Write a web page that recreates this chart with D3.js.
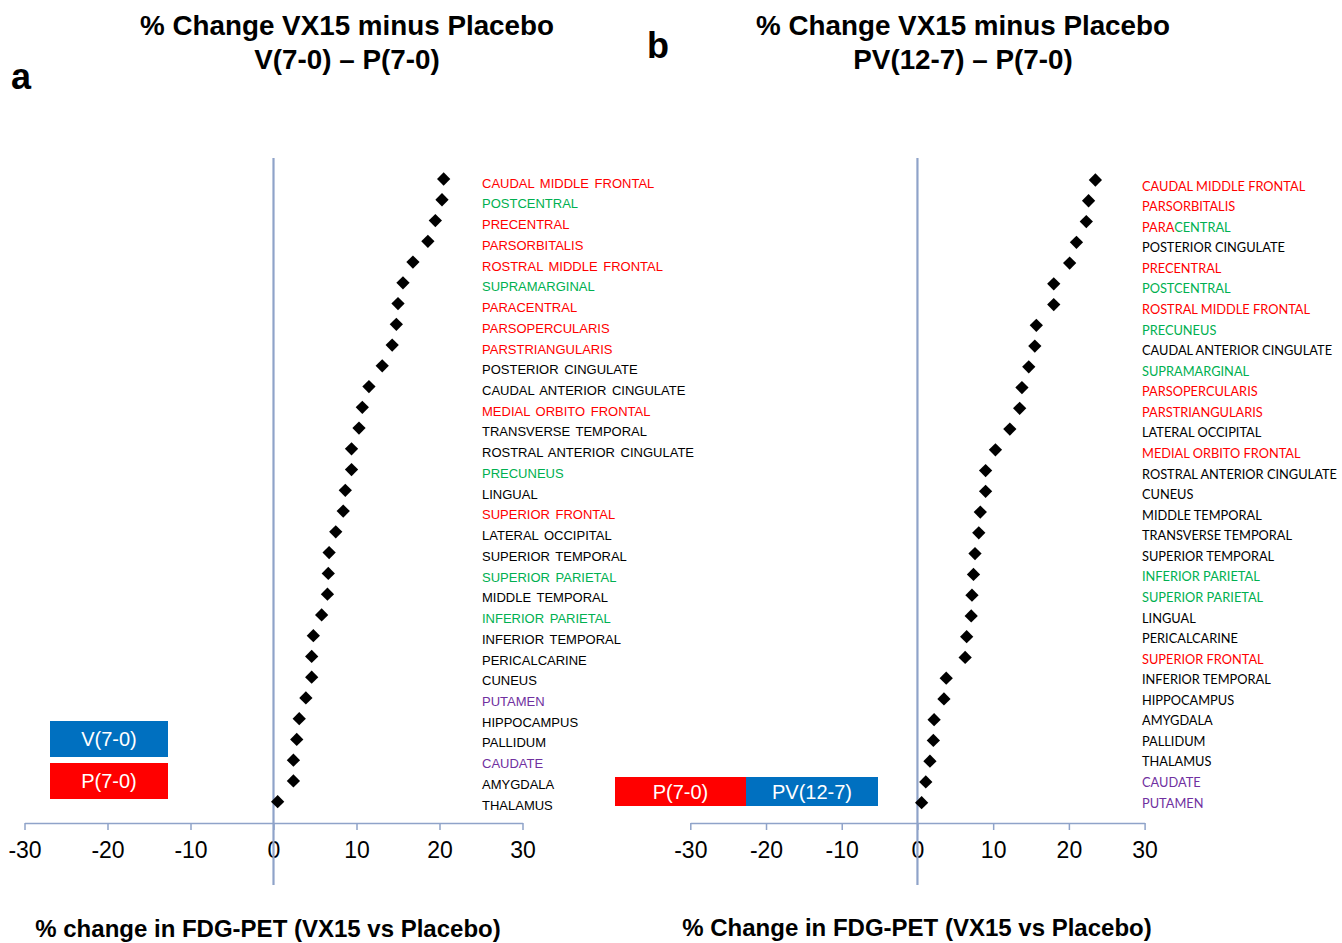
<!DOCTYPE html>
<html><head><meta charset="utf-8">
<script src="https://cdn.jsdelivr.net/npm/d3@7"></script>
<style>body{margin:0;background:#fff}svg{display:block}</style>
</head><body>
<script>
// ---------- DATA ----------
const regionsA = ["CAUDAL MIDDLE FRONTAL","POSTCENTRAL","PRECENTRAL","PARSORBITALIS","ROSTRAL MIDDLE FRONTAL","SUPRAMARGINAL","PARACENTRAL","PARSOPERCULARIS","PARSTRIANGULARIS","POSTERIOR CINGULATE","CAUDAL ANTERIOR CINGULATE","MEDIAL ORBITO FRONTAL","TRANSVERSE TEMPORAL","ROSTRAL ANTERIOR CINGULATE","PRECUNEUS","LINGUAL","SUPERIOR FRONTAL","LATERAL OCCIPITAL","SUPERIOR TEMPORAL","SUPERIOR PARIETAL","MIDDLE TEMPORAL","INFERIOR PARIETAL","INFERIOR TEMPORAL","PERICALCARINE","CUNEUS","PUTAMEN","HIPPOCAMPUS","PALLIDUM","CAUDATE","AMYGDALA","THALAMUS"];
const valuesA = [20.5,20.3,19.5,18.6,16.8,15.6,15.0,14.8,14.3,13.1,11.5,10.7,10.3,9.4,9.4,8.65,8.4,7.5,6.7,6.6,6.5,5.8,4.8,4.6,4.6,3.9,3.1,2.8,2.4,2.4,0.5];
const groupsA = ["F","P","F","F","F","P","F","F","F","O","O","F","O","O","P","O","F","O","O","P","O","P","O","O","O","B","O","O","B","O","O"];

const regionsB = ["CAUDAL MIDDLE FRONTAL","PARSORBITALIS","PARACENTRAL","POSTERIOR CINGULATE","PRECENTRAL","POSTCENTRAL","ROSTRAL MIDDLE FRONTAL","PRECUNEUS","CAUDAL ANTERIOR CINGULATE","SUPRAMARGINAL","PARSOPERCULARIS","PARSTRIANGULARIS","LATERAL OCCIPITAL","MEDIAL ORBITO FRONTAL","ROSTRAL ANTERIOR CINGULATE","CUNEUS","MIDDLE TEMPORAL","TRANSVERSE TEMPORAL","SUPERIOR TEMPORAL","INFERIOR PARIETAL","SUPERIOR PARIETAL","LINGUAL","PERICALCARINE","SUPERIOR FRONTAL","INFERIOR TEMPORAL","HIPPOCAMPUS","AMYGDALA","PALLIDUM","THALAMUS","CAUDATE","PUTAMEN"];
const valuesB = [23.5,22.6,22.3,21.0,20.1,18.0,18.0,15.7,15.5,14.7,13.8,13.5,12.2,10.3,9.0,9.0,8.3,8.1,7.6,7.4,7.2,7.1,6.5,6.3,3.8,3.5,2.2,2.1,1.65,1.1,0.55];
const groupsB = ["F","F","FP","O","F","P","F","P","O","P","F","F","O","F","O","O","O","O","O","P","P","O","O","F","O","O","O","O","O","B","B"];

const tickValues = [-30,-20,-10,0,10,20,30];
const titlesA = ["% Change VX15 minus Placebo","V(7-0) \u2013 P(7-0)"];
const titlesB = ["% Change VX15 minus Placebo","PV(12-7) \u2013 P(7-0)"];
const xTitleA = "% change in FDG-PET (VX15 vs Placebo)";
const xTitleB = "% Change in FDG-PET (VX15 vs Placebo)";
const legendA = ["V(7-0)","P(7-0)"];
const legendB = ["P(7-0)","PV(12-7)"];

// ---------- STYLE ----------
const groupColor = {F:"#FF0000",P:"#00B050",B:"#7030A0",O:"#000000"};
const axisColor = "#8FA3C9";
const BLUE = "#0070C0", RED = "#FF0000";

const W = 1342, H = 943;
const svg = d3.select("body").append("svg").attr("width",W).attr("height",H);

function panel(cfg){
  const x = d3.scaleLinear().domain([-30,30]).range(cfg.xr);
  const y = d3.scalePoint().domain(cfg.regions).range(cfg.yr);
  const yl = d3.scalePoint().domain(cfg.regions).range(cfg.ylr);
  const g = svg.append("g");

  // axis
  const ax = g.append("g").attr("transform",`translate(0,${cfg.axisY})`)
    .call(d3.axisBottom(x).tickValues(tickValues).tickSize(7).tickSizeOuter(0).tickPadding(12).tickFormat(d=>String(d)));
  ax.select(".domain").attr("stroke",axisColor).attr("stroke-width",1.5);
  ax.selectAll(".tick line").attr("stroke",axisColor).attr("stroke-width",1.5);
  ax.selectAll(".tick text").attr("fill","#000").attr("font-family","'Liberation Sans',Arial,sans-serif").attr("font-size",23);

  // zero line
  g.append("line").attr("x1",x(0)).attr("x2",x(0)).attr("y1",158).attr("y2",885)
    .attr("stroke",axisColor).attr("stroke-width",2.2);

  // diamonds
  const sym = d3.symbol().type(d3.symbolSquare).size(88);
  g.selectAll("path.pt").data(cfg.values).join("path").attr("class","pt")
    .attr("d",sym())
    .attr("transform",(d,i)=>`translate(${x(d)},${y(cfg.regions[i])}) rotate(45)`)
    .attr("fill","#000");

  // labels
  const lab = g.selectAll("text.lab").data(cfg.regions).join("text").attr("class","lab")
    .attr("x",cfg.labelX).attr("y",d=>yl(d)).attr("dy","0.36em")
    .attr("font-family",cfg.labelFont).attr("font-size",cfg.labelSize)
    .attr("word-spacing",cfg.wordSpacing||0);
  lab.each(function(d,i){
    const grp = cfg.groups[i];
    const t = d3.select(this);
    if(grp==="FP"){
      t.append("tspan").attr("fill",groupColor.F).text(d.slice(0,4));
      t.append("tspan").attr("fill",groupColor.P).text(d.slice(4));
    } else {
      t.attr("fill",groupColor[grp]).text(d);
    }
  });

  // titles
  cfg.titles.forEach((t,i)=>{
    g.append("text").attr("x",cfg.titleX).attr("y",cfg.titleY[i]).attr("text-anchor","middle")
      .attr("font-family","'Liberation Sans',Arial,sans-serif").attr("font-weight","bold").attr("font-size",27.8)
      .text(t);
  });
  g.append("text").attr("x",cfg.xTitleX).attr("y",cfg.xTitleY).attr("text-anchor","middle")
    .attr("font-family","'Liberation Sans',Arial,sans-serif").attr("font-weight","bold").attr("font-size",24)
    .text(cfg.xTitle);
  g.append("text").attr("x",cfg.letterX).attr("y",cfg.letterY)
    .attr("font-family","'Liberation Sans',Arial,sans-serif").attr("font-weight","bold").attr("font-size",36)
    .text(cfg.letter);

  // legend
  cfg.legend.forEach(l=>{
    g.append("rect").attr("x",l.x).attr("y",l.y).attr("width",l.w).attr("height",l.h).attr("fill",l.c);
    g.append("text").attr("x",l.x+l.w/2).attr("y",l.y+l.h/2).attr("dy","0.36em").attr("text-anchor","middle")
      .attr("fill","#fff").attr("font-family","'Liberation Sans',Arial,sans-serif").attr("font-size",20).text(l.t);
  });
}

panel({
  regions:regionsA, values:valuesA, groups:groupsA,
  xr:[24.5,522.5], yr:[179,801.7], ylr:[183,805], axisY:823,
  labelX:482, labelFont:"'Liberation Sans',Arial,sans-serif", labelSize:13, wordSpacing:2,
  titles:titlesA, titleX:347, titleY:[35,69],
  xTitle:xTitleA, xTitleX:268, xTitleY:937,
  letter:"a", letterX:11, letterY:89,
  legend:[{x:50,y:721,w:118,h:36,c:BLUE,t:legendA[0]},{x:50,y:763,w:118,h:36,c:RED,t:legendA[1]}]
});
panel({
  regions:regionsB, values:valuesB, groups:groupsB,
  xr:[690.3,1144.6], yr:[180,802.7], ylr:[186,803], axisY:823,
  labelX:1142, labelFont:"Lato,'Open Sans',sans-serif", labelSize:12.8,
  titles:titlesB, titleX:963, titleY:[35,69],
  xTitle:xTitleB, xTitleX:917, xTitleY:936,
  letter:"b", letterX:647, letterY:58,
  legend:[{x:615,y:777,w:131,h:29,c:RED,t:legendB[0]},{x:746,y:777,w:132,h:29,c:BLUE,t:legendB[1]}]
});
</script>
</body></html>
